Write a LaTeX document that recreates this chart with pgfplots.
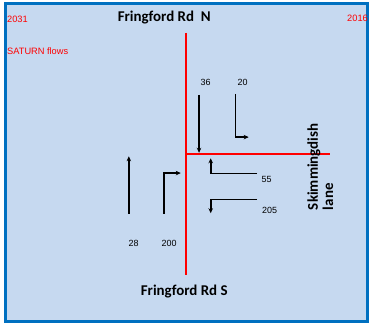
\documentclass[border=0pt]{standalone}
\usepackage{pgfplots}
\pgfplotsset{compat=1.18}
\usepackage{fontspec}
\setmainfont{Liberation Sans}
\newfontfamily\calibri{Carlito}
\usetikzlibrary{arrows.meta}
\definecolor{bgblue}{HTML}{C6D9F0}
\definecolor{edgeblue}{HTML}{0070C0}
\definecolor{roadred}{HTML}{FF0000}
\begin{document}
\begin{tikzpicture}
\begin{axis}[
  scale only axis, width=369bp, height=326bp,
  xmin=0, xmax=369, ymin=0, ymax=326, y dir=reverse,
  enlargelimits=false, hide axis, clip=false,
]
% page
\addplot[draw=none, fill=white] coordinates {(0,0) (369,0) (369,326) (0,326)} -- cycle;
% box
\addplot[draw=edgeblue, line width=3bp, fill=bgblue] coordinates {(5.5,3.2) (368,3.2) (368,322.3) (5.5,322.3)} -- cycle;
% roads
\addplot[roadred, line width=2bp] coordinates {(186,33) (186,275)};
\addplot[roadred, line width=2bp] coordinates {(186,154.7) (330,154.7)};
% flows
\addplot[black, line width=1.6bp, -{Stealth[length=5bp,width=4.5bp]}] coordinates {(199.3,95) (199.3,153)};
\addplot[black, line width=1.6bp, -{Stealth[length=5bp,width=4.5bp]}] coordinates {(235.7,94) (235.7,137.3) (249,137.3)};
\addplot[black, line width=1.6bp, -{Stealth[length=5bp,width=4.5bp]}] coordinates {(129,214) (129,156.5)};
\addplot[black, line width=1.6bp, -{Stealth[length=5bp,width=4.5bp]}] coordinates {(164,214) (164,173.3) (181,173.3)};
\addplot[black, line width=1.6bp, -{Stealth[length=5bp,width=4.5bp]}] coordinates {(257.5,173.7) (211,173.7) (211,158.5)};
\addplot[black, line width=1.6bp, -{Stealth[length=5bp,width=4.5bp]}] coordinates {(257.5,199.7) (211,199.7) (211,213.5)};
% labels
\node[font=\fontsize{9}{10}\selectfont, inner sep=0pt] at (axis cs:206,82.7) {36};
\node[font=\fontsize{9}{10}\selectfont, inner sep=0pt] at (axis cs:243,82.7) {20};
\node[font=\fontsize{9}{10}\selectfont, inner sep=0pt] at (axis cs:133.7,244) {28};
\node[font=\fontsize{9}{10}\selectfont, inner sep=0pt] at (axis cs:169.3,244) {200};
\node[font=\fontsize{9}{10}\selectfont, inner sep=0pt] at (axis cs:267,179.3) {55};
\node[font=\fontsize{9}{10}\selectfont, inner sep=0pt] at (axis cs:270,211) {205};
\node[font=\calibri\bfseries\fontsize{15}{16}\selectfont, inner sep=0pt] at (axis cs:164.5,18) {Fringford Rd\ \ N};
\node[font=\calibri\bfseries\fontsize{15}{16}\selectfont, inner sep=0pt] at (axis cs:184.5,291.5) {Fringford Rd S};
\node[font=\calibri\bfseries\fontsize{15}{15.5}\selectfont, inner sep=0pt, rotate=90, anchor=north west, align=left] at (axis cs:307.5,210.5) {Skimmingdish\\lane};
\node[font=\fontsize{9.3}{10}\selectfont, text=roadred, inner sep=0pt, anchor=west] at (axis cs:7,19.5) {2031};
\node[font=\fontsize{9.3}{10}\selectfont, text=roadred, inner sep=0pt, anchor=west] at (axis cs:7,51.5) {SATURN flows};
\node[font=\fontsize{9.3}{10}\selectfont, text=roadred, inner sep=0pt, anchor=east] at (axis cs:368.5,18.5) {2016};
\end{axis}
\end{tikzpicture}
\end{document}
